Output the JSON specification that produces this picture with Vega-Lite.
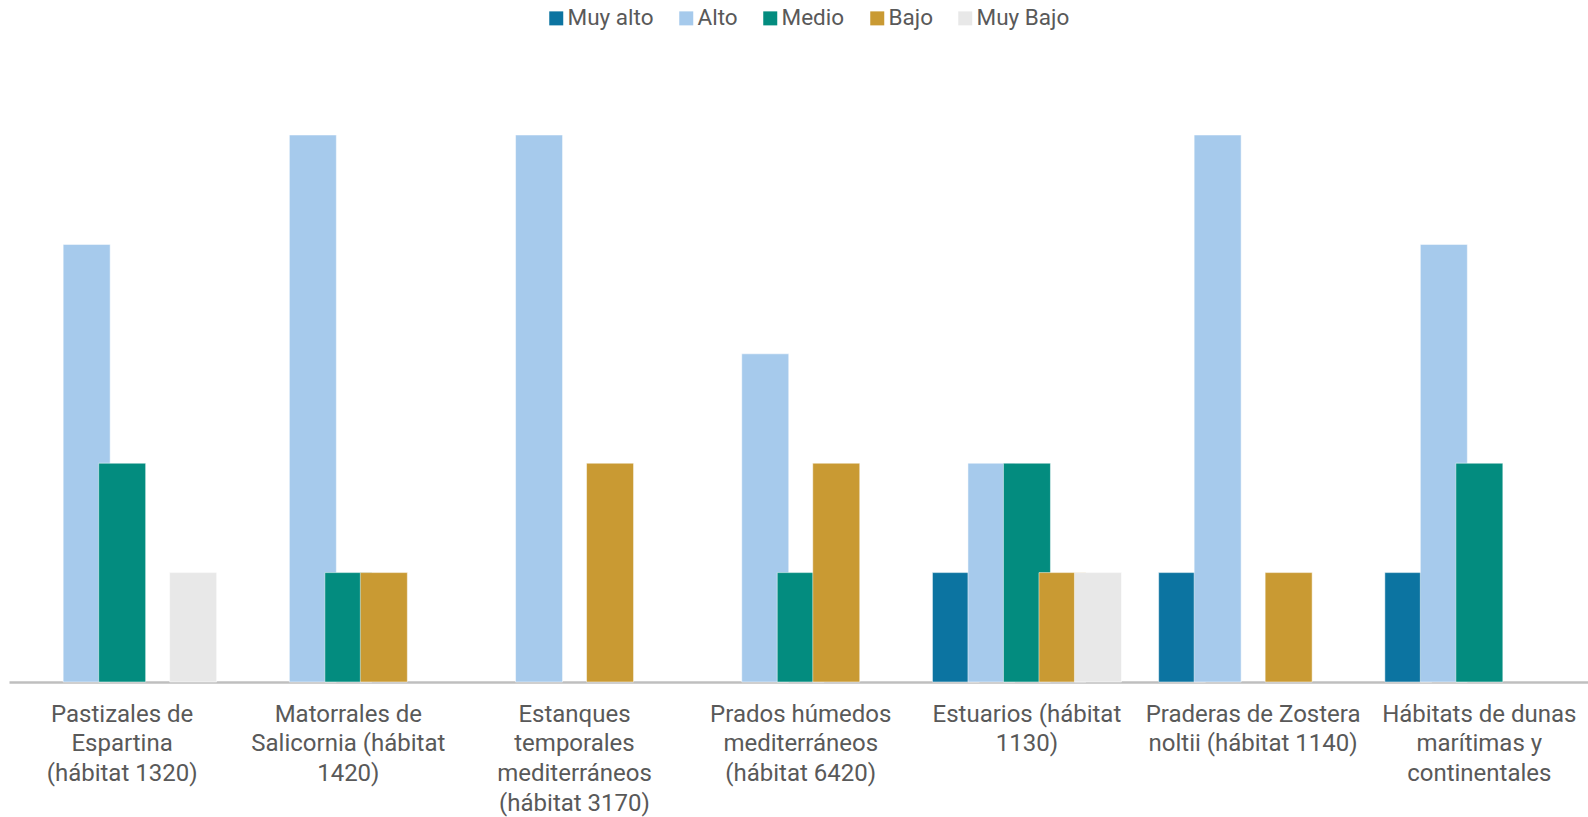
{
  "$schema": "https://vega.github.io/schema/vega-lite/v6.json",
  "width": 1579,
  "height": 547,
  "autosize": {"type": "none"},
  "padding": {"left": 9, "top": 135, "right": 0, "bottom": 135},
  "background": "white",
  "config": {
    "view": {"stroke": null},
    "font": "Roboto"
  },
  "data": {
    "values": [
      {"habitat": "Pastizales de Espartina (hábitat 1320)", "nivel": "Alto", "valor": 4},
      {"habitat": "Pastizales de Espartina (hábitat 1320)", "nivel": "Medio", "valor": 2},
      {"habitat": "Pastizales de Espartina (hábitat 1320)", "nivel": "Muy Bajo", "valor": 1},
      {"habitat": "Matorrales de Salicornia (hábitat 1420)", "nivel": "Alto", "valor": 5},
      {"habitat": "Matorrales de Salicornia (hábitat 1420)", "nivel": "Medio", "valor": 1},
      {"habitat": "Matorrales de Salicornia (hábitat 1420)", "nivel": "Bajo", "valor": 1},
      {"habitat": "Estanques temporales mediterráneos (hábitat 3170)", "nivel": "Alto", "valor": 5},
      {"habitat": "Estanques temporales mediterráneos (hábitat 3170)", "nivel": "Bajo", "valor": 2},
      {"habitat": "Prados húmedos mediterráneos (hábitat 6420)", "nivel": "Alto", "valor": 3},
      {"habitat": "Prados húmedos mediterráneos (hábitat 6420)", "nivel": "Medio", "valor": 1},
      {"habitat": "Prados húmedos mediterráneos (hábitat 6420)", "nivel": "Bajo", "valor": 2},
      {"habitat": "Estuarios (hábitat 1130)", "nivel": "Muy alto", "valor": 1},
      {"habitat": "Estuarios (hábitat 1130)", "nivel": "Alto", "valor": 2},
      {"habitat": "Estuarios (hábitat 1130)", "nivel": "Medio", "valor": 2},
      {"habitat": "Estuarios (hábitat 1130)", "nivel": "Bajo", "valor": 1},
      {"habitat": "Estuarios (hábitat 1130)", "nivel": "Muy Bajo", "valor": 1},
      {"habitat": "Praderas de Zostera noltii (hábitat 1140)", "nivel": "Muy alto", "valor": 1},
      {"habitat": "Praderas de Zostera noltii (hábitat 1140)", "nivel": "Alto", "valor": 5},
      {"habitat": "Praderas de Zostera noltii (hábitat 1140)", "nivel": "Bajo", "valor": 1},
      {"habitat": "Hábitats de dunas marítimas y continentales", "nivel": "Muy alto", "valor": 1},
      {"habitat": "Hábitats de dunas marítimas y continentales", "nivel": "Alto", "valor": 4},
      {"habitat": "Hábitats de dunas marítimas y continentales", "nivel": "Medio", "valor": 2}
    ]
  },
  "mark": {
    "type": "bar",
    "width": {"band": 1.324},
    "stroke": "white",
    "strokeWidth": 1,
    "strokeOpacity": 0.5
  },
  "encoding": {
    "x": {
      "field": "habitat",
      "type": "nominal",
      "sort": null,
      "scale": {"range": [0, 1583.4], "paddingInner": 0.2153, "paddingOuter": 0.1077},
      "axis": {
        "title": null,
        "domainColor": "#BFBFBF",
        "domainWidth": 2.5,
        "ticks": false,
        "labelAngle": 0,
        "labelFontSize": 24,
        "labelColor": "#595959",
        "labelLineHeight": 29.8,
        "labelPadding": 20,
        "labelBaseline": "top",
        "labelAlign": "center",
        "labelLimit": 0,
        "labelExpr": "{'Pastizales de Espartina (hábitat 1320)': ['Pastizales de', 'Espartina', '(hábitat 1320)'], 'Matorrales de Salicornia (hábitat 1420)': ['Matorrales de', 'Salicornia (hábitat', '1420)'], 'Estanques temporales mediterráneos (hábitat 3170)': ['Estanques', 'temporales', 'mediterráneos', '(hábitat 3170)'], 'Prados húmedos mediterráneos (hábitat 6420)': ['Prados húmedos', 'mediterráneos', '(hábitat 6420)'], 'Estuarios (hábitat 1130)': ['Estuarios (hábitat', '1130)'], 'Praderas de Zostera noltii (hábitat 1140)': ['Praderas de Zostera', 'noltii (hábitat 1140)'], 'Hábitats de dunas marítimas y continentales': ['Hábitats de dunas', 'marítimas y', 'continentales']}[datum.label]"
      }
    },
    "xOffset": {
      "field": "nivel",
      "type": "nominal",
      "scale": {"domain": ["Muy alto", "Alto", "Medio", "Bajo", "Muy Bajo"], "range": [23.05, 200.55], "paddingInner": 0, "paddingOuter": 0}
    },
    "y": {
      "field": "valor",
      "type": "quantitative",
      "scale": {"domain": [0, 5], "nice": false},
      "axis": null
    },
    "color": {
      "field": "nivel",
      "type": "nominal",
      "scale": {
        "domain": ["Muy alto", "Alto", "Medio", "Bajo", "Muy Bajo"],
        "range": ["#0C74A1", "#A6CAEC", "#038C7F", "#C99A33", "#E8E8E8"]
      },
      "legend": {
        "title": null,
        "orient": "none",
        "direction": "horizontal",
        "legendX": 536,
        "legendY": -128,
        "symbolType": "square",
        "symbolSize": 196,
        "symbolStrokeWidth": 0,
        "labelFontSize": 22.5,
        "labelColor": "#595959",
        "labelOffset": 0,
        "columnPadding": 21
      }
    }
  }
}
